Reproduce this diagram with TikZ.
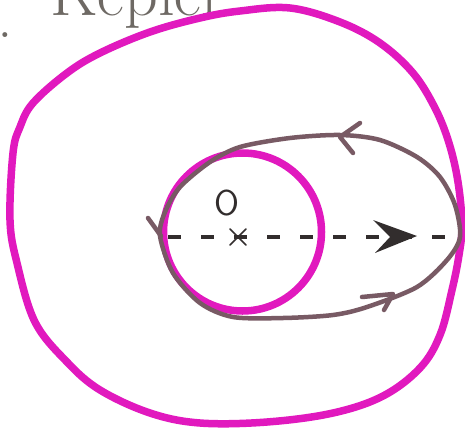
\documentclass[tikz,border=0pt]{standalone}
\usepackage{fontspec}
\usetikzlibrary{arrows.meta}
\definecolor{mag}{RGB}{225,25,190}
\definecolor{orbit}{RGB}{120,90,100}
\definecolor{ink}{RGB}{50,45,45}
\definecolor{pencil}{RGB}{110,105,100}
\tikzset{
  magline/.style={draw=mag,line width=7.5pt,line cap=round,line join=round},
  orbitline/.style={draw=orbit,line width=4.5pt,line cap=round,line join=round},
  chev/.style={draw=orbit,line width=4.5pt,line cap=round,line join=round},
  dashline/.style={draw=ink,line width=4pt,dash pattern=on 13pt off 20pt},
  lbl/.style={inner sep=0pt,text=ink}
}
\begin{document}
\begin{tikzpicture}[x=1pt,y=-1pt]
\useasboundingbox (0,0) rectangle (465,431);
\clip (0,0) rectangle (465,431);
\fill[white] (0,0) rectangle (465,431);
% top partial text
\node[lbl,text=pencil,font=\fontsize{66}{66}\selectfont\addfontfeature{LetterSpace=6},anchor=base west] (kep) at (50,15) {Kepler};
\node[lbl,text=pencil,font=\fontsize{34}{34}\selectfont\bfseries,anchor=base] (dot) at (5,37) {.};
% outer magenta curve
\draw[magline] plot[smooth cycle,tension=0.6] coordinates {
 (10,220) (13,153) (20,127) (33,103) (67,73) (100,53) (150,32) (200,18)
 (240,11) (290,8) (340,22) (380,43) (413,73) (435,108) (449,143) (458,182)
 (462,225) (459,255) (452,290) (440,335) (420,368) (383,396) (333,413)
 (267,422) (200,423) (150,413) (100,390) (67,362) (35,322) (17,263)};
% small magenta circle
\draw[magline] (242.5,232) circle[radius=79];
% orbit loop
\draw[orbitline] plot[smooth cycle] coordinates {
 (160,236) (165,212) (180,187) (210,162) (240,147) (290,138) (340,135)
 (380,140) (417,157) (440,177) (455,205) (460,237) (447,260) (417,287)
 (367,307) (333,315) (283,318) (233,317) (200,303) (173,273)};
% chevrons on the loop
\draw[chev] (360,123) -- (340,137) -- (353,153);
\draw[chev] (362,297) -- (393,294) -- (384,310);
\draw[chev] (148,218) -- (161,236);
% dashed axis
\coordinate (pL) at (168,237);
\coordinate (pR) at (460,237);
\draw[dashline] (pL) -- (pR);
\fill[ink] (417,236) -- (373,220) -- (390,237) -- (375,253) -- cycle;
% labels
\node[lbl,font=\fontsize{36}{36}\selectfont\sffamily] (O) at (227,203) {O};
\node[lbl,font=\fontsize{32}{32}\selectfont\bfseries] (x) at (238,237) {×};
\end{tikzpicture}
\end{document}
